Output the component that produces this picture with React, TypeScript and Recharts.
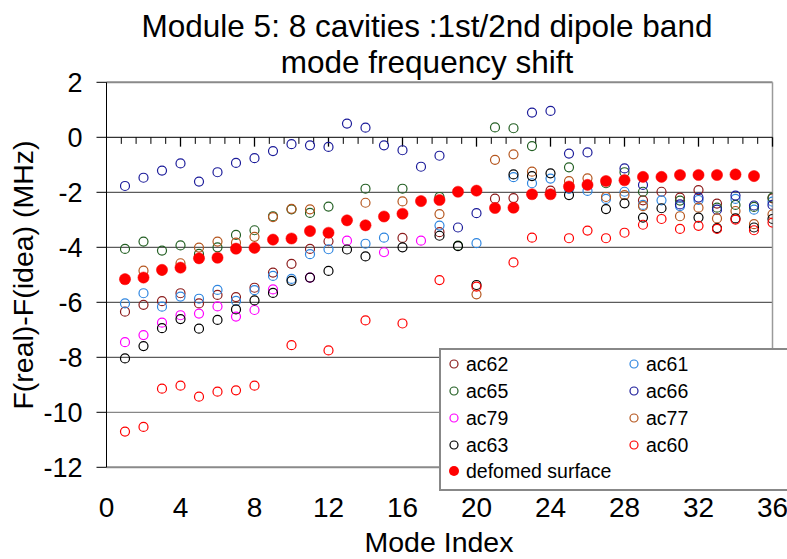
import React from 'react';
import { ScatterChart, Scatter, XAxis, YAxis, ReferenceLine } from 'recharts';

const modes = [1, 2, 3, 4, 5, 6, 7, 8, 9, 10, 11, 12, 13, 14, 15, 16, 17, 18, 19, 20, 21, 22, 23, 24, 25, 26, 27, 28, 29, 30, 31, 32, 33, 34, 35, 36];

const ac62 = [-6.34, -6.09, -5.96, -5.67, -6.04, -5.73, -5.81, -5.47, -4.92, -4.6, -4.06, -3.78, null, null, null, -3.66, null, -3.45, null, null, -2.23, -2.21, null, -1.94, null, null, null, null, -2.29, -1.98, -2.19, -1.92, -2.41, null, null, -2.22];
const ac61 = [-6.04, -5.67, -6.16, -5.79, -5.87, -5.55, -5.95, -5.56, -5.04, -5.15, -4.25, -4.07, null, -3.87, -3.65, null, null, -3.21, null, -3.85, null, -1.45, -1.67, -1.5, -1.88, -1.95, -2.24, -1.98, -2.46, -2.29, -2.5, -2.28, null, -2.24, -2.63, -2.34];
const ac65 = [-4.06, -3.79, -4.12, -3.93, -4.24, -4.0, -3.55, -3.38, -2.87, -2.62, -2.75, -2.52, null, -1.87, null, -1.87, null, -2.17, -3.94, null, 0.36, 0.33, -0.32, null, -1.09, null, -1.67, -1.27, -1.98, null, -2.3, null, -2.56, -2.46, -2.53, -2.19];
const ac66 = [-1.77, -1.47, -1.21, -0.95, -1.61, -1.27, -0.93, -0.76, -0.5, -0.25, -0.29, -0.35, 0.5, 0.35, -0.29, -0.47, -1.07, -0.67, -3.28, -2.76, null, null, 0.9, 0.96, -0.59, -0.55, null, -1.13, -1.73, null, -2.44, -2.19, -2.63, -2.12, -2.48, -2.46];
const ac79 = [-7.45, -7.19, -6.74, -6.47, -6.41, -6.15, -6.52, -6.28, -5.53, null, -5.1, null, -3.76, null, -4.18, null, -3.76, null, null, null, null, null, null, null, null, null, null, null, null, null, null, null, null, null, null, null];
const ac77 = [null, -4.85, -4.85, -4.58, -4.01, -3.79, -3.83, -3.62, -2.9, -2.6, -2.62, null, null, -2.38, null, -2.33, null, -2.79, null, -5.71, -0.82, -0.62, -1.25, null, -1.59, -1.49, -2.17, -2.1, -2.5, null, -2.87, -2.56, -2.95, -2.68, -3.16, -2.8];
const ac63 = [-8.04, -7.59, -6.94, -6.61, -6.96, -6.64, -6.26, -5.93, -5.66, -5.22, -5.1, -4.86, -4.08, -4.33, null, -4.0, null, -3.58, -3.96, -5.37, null, -1.35, -1.41, -1.31, -2.1, null, -2.61, -2.4, -2.92, -2.58, null, -2.92, -3.3, -2.95, -3.28, -2.97];
const ac60 = [-10.7, -10.53, -9.14, -9.03, -9.43, -9.25, -9.2, -9.03, null, -7.56, null, -7.75, null, -6.66, null, -6.77, null, -5.19, null, -5.43, null, -4.55, -3.65, null, -3.67, -3.39, -3.67, -3.47, -3.18, -2.97, -3.33, -3.22, -3.33, -2.99, -3.38, -3.1];
const deformed = [-5.16, -5.1, -4.82, -4.74, -4.4, -4.38, -4.05, -4.02, -3.72, -3.68, -3.41, -3.47, -3.02, -3.2, -2.88, -2.78, -2.32, -2.28, -1.98, -1.94, -2.57, -2.56, -2.07, -2.07, -1.79, -1.73, -1.59, -1.56, -1.44, -1.44, -1.37, -1.37, -1.37, -1.35, -1.41, null];

const seriesNames = ['ac62', 'ac61', 'ac65', 'ac66', 'ac79', 'ac77', 'ac63', 'ac60', 'defomed surface'];
const seriesValues = [ac62, ac61, ac65, ac66, ac79, ac77, ac63, ac60, deformed];
const seriesColors = ['#8b1c1c', '#2f86e0', '#235f23', '#1c1c9a', '#ff00ff', '#b5561e', '#000000', '#ff0000', '#ff0000'];
const seriesFilled = [false, false, false, false, false, false, false, false, true];

const xTicks = [0, 4, 8, 12, 16, 20, 24, 28, 32, 36];
const yTicks = [-12, -10, -8, -6, -4, -2, 0, 2];
const gridValues = [-2, -4, -6, -8, -10];
const minorXTicks = Array.from({ length: 45 }, (_, i) => Math.round((i + 1) * 0.8 * 10) / 10).filter((v) => v % 4 !== 0);

const FONT = '"Liberation Sans", Arial, Helvetica, sans-serif';

const toPoints = (values: (number | null)[]) =>
  modes.map((m, i) => ({ x: m, y: values[i] })).filter((p) => p.y !== null);

const makeShape = (color: string, filled: boolean) => (props: any) => {
  const { cx, cy } = props;
  if (cx == null || cy == null) return null;
  return filled ? (
    <circle cx={cx} cy={cy} r={5.6} fill={color} stroke={color} strokeWidth={0.5} />
  ) : (
    <circle cx={cx} cy={cy} r={4.5} fill="none" stroke={color} strokeWidth={1.2} />
  );
};

const legendCols = [454, 634];
const legendRows = [364, 391, 418, 445, 471];

export default function App() {
  return (
    <div
      style={{
        position: 'absolute',
        left: 0,
        top: 0,
        width: 787,
        height: 559,
        overflow: 'hidden',
        background: '#ffffff',
        fontFamily: FONT,
      }}
    >
      <ScatterChart width={787} height={559} margin={{ top: 82.3, right: 14.5, bottom: 0, left: 0 }}>
        {gridValues.map((v) => (
          <ReferenceLine key={'g' + v} y={v} stroke={v === -10 ? '#6a6a6a' : '#333333'} strokeWidth={1} />
        ))}
        <ReferenceLine y={2} stroke="#8a8a8a" strokeWidth={2} />
        <ReferenceLine y={-12} stroke="#8a8a8a" strokeWidth={2} />
        <ReferenceLine x={36} stroke="#9a9a9a" strokeWidth={1.5} />
        <ReferenceLine y={0} stroke="#000000" strokeWidth={1} />
        {minorXTicks.map((t) => (
          <ReferenceLine
            key={'mt' + t}
            segment={[{ x: t, y: 0 }, { x: t, y: -0.24 }]}
            stroke="#000000"
            strokeWidth={1}
          />
        ))}
        {xTicks.slice(1).map((t) => (
          <ReferenceLine
            key={'Mt' + t}
            segment={[{ x: t, y: 0 }, { x: t, y: -0.34 }]}
            stroke="#000000"
            strokeWidth={1.3}
          />
        ))}
        <XAxis
          type="number"
          dataKey="x"
          domain={[0, 36]}
          ticks={xTicks}
          interval={0}
          height={91.7}
          axisLine={false}
          tickLine={false}
          tickSize={0}
          tickMargin={30}
          tick={{ fill: '#000000', fontSize: 28, fontFamily: FONT }}
          allowDataOverflow
        />
        <YAxis
          type="number"
          dataKey="y"
          domain={[-12, 2]}
          ticks={yTicks}
          interval={0}
          width={106.5}
          axisLine={{ stroke: '#000000', strokeWidth: 1 }}
          tickLine={{ stroke: '#000000', strokeWidth: 1 }}
          tickSize={10}
          tickMargin={14}
          tick={{ fill: '#000000', fontSize: 27, fontFamily: FONT }}
          allowDataOverflow
        />
        {seriesNames.map((name, i) => (
          <Scatter
            key={name}
            name={name}
            data={toPoints(seriesValues[i])}
            dataKey="y"
            isAnimationActive={false}
            shape={makeShape(seriesColors[i], seriesFilled[i])}
          />
        ))}
      </ScatterChart>
      <svg
        width={787}
        height={559}
        style={{ position: 'absolute', left: 0, top: 0, pointerEvents: 'none' }}
      >
        <text x={427} y={37} textAnchor="middle" fontSize={31.5} fontFamily={FONT} fill="#000">
          Module 5: 8 cavities :1st/2nd dipole band
        </text>
        <text x={427} y={73} textAnchor="middle" fontSize={31.5} fontFamily={FONT} fill="#000">
          mode frequency shift
        </text>
        <text
          transform="translate(33,275) rotate(-90)"
          textAnchor="middle"
          fontSize={28.5}
          fontFamily={FONT}
          fill="#000"
        >
          F(real)-F(idea) (MHz)
        </text>
        <text x={439} y={552} textAnchor="middle" fontSize={28.5} fontFamily={FONT} fill="#000">
          Mode Index
        </text>
        <rect x={440} y={349} width={360} height={141} fill="#ffffff" stroke="#888888" strokeWidth={2} />
        {seriesNames.map((name, i) => {
          const col = i === 8 ? 0 : i % 2;
          const row = Math.floor(i / 2);
          const cx = legendCols[col];
          const cy = legendRows[row];
          return (
            <g key={'lg' + name}>
              {seriesFilled[i] ? (
                <circle cx={cx} cy={cy} r={5} fill={seriesColors[i]} />
              ) : (
                <circle cx={cx} cy={cy} r={4} fill="none" stroke={seriesColors[i]} strokeWidth={1.2} />
              )}
              <text x={cx + 12} y={cy + 7} fontSize={19.5} fontFamily={FONT} fill="#000">
                {name}
              </text>
            </g>
          );
        })}
      </svg>
    </div>
  );
}
